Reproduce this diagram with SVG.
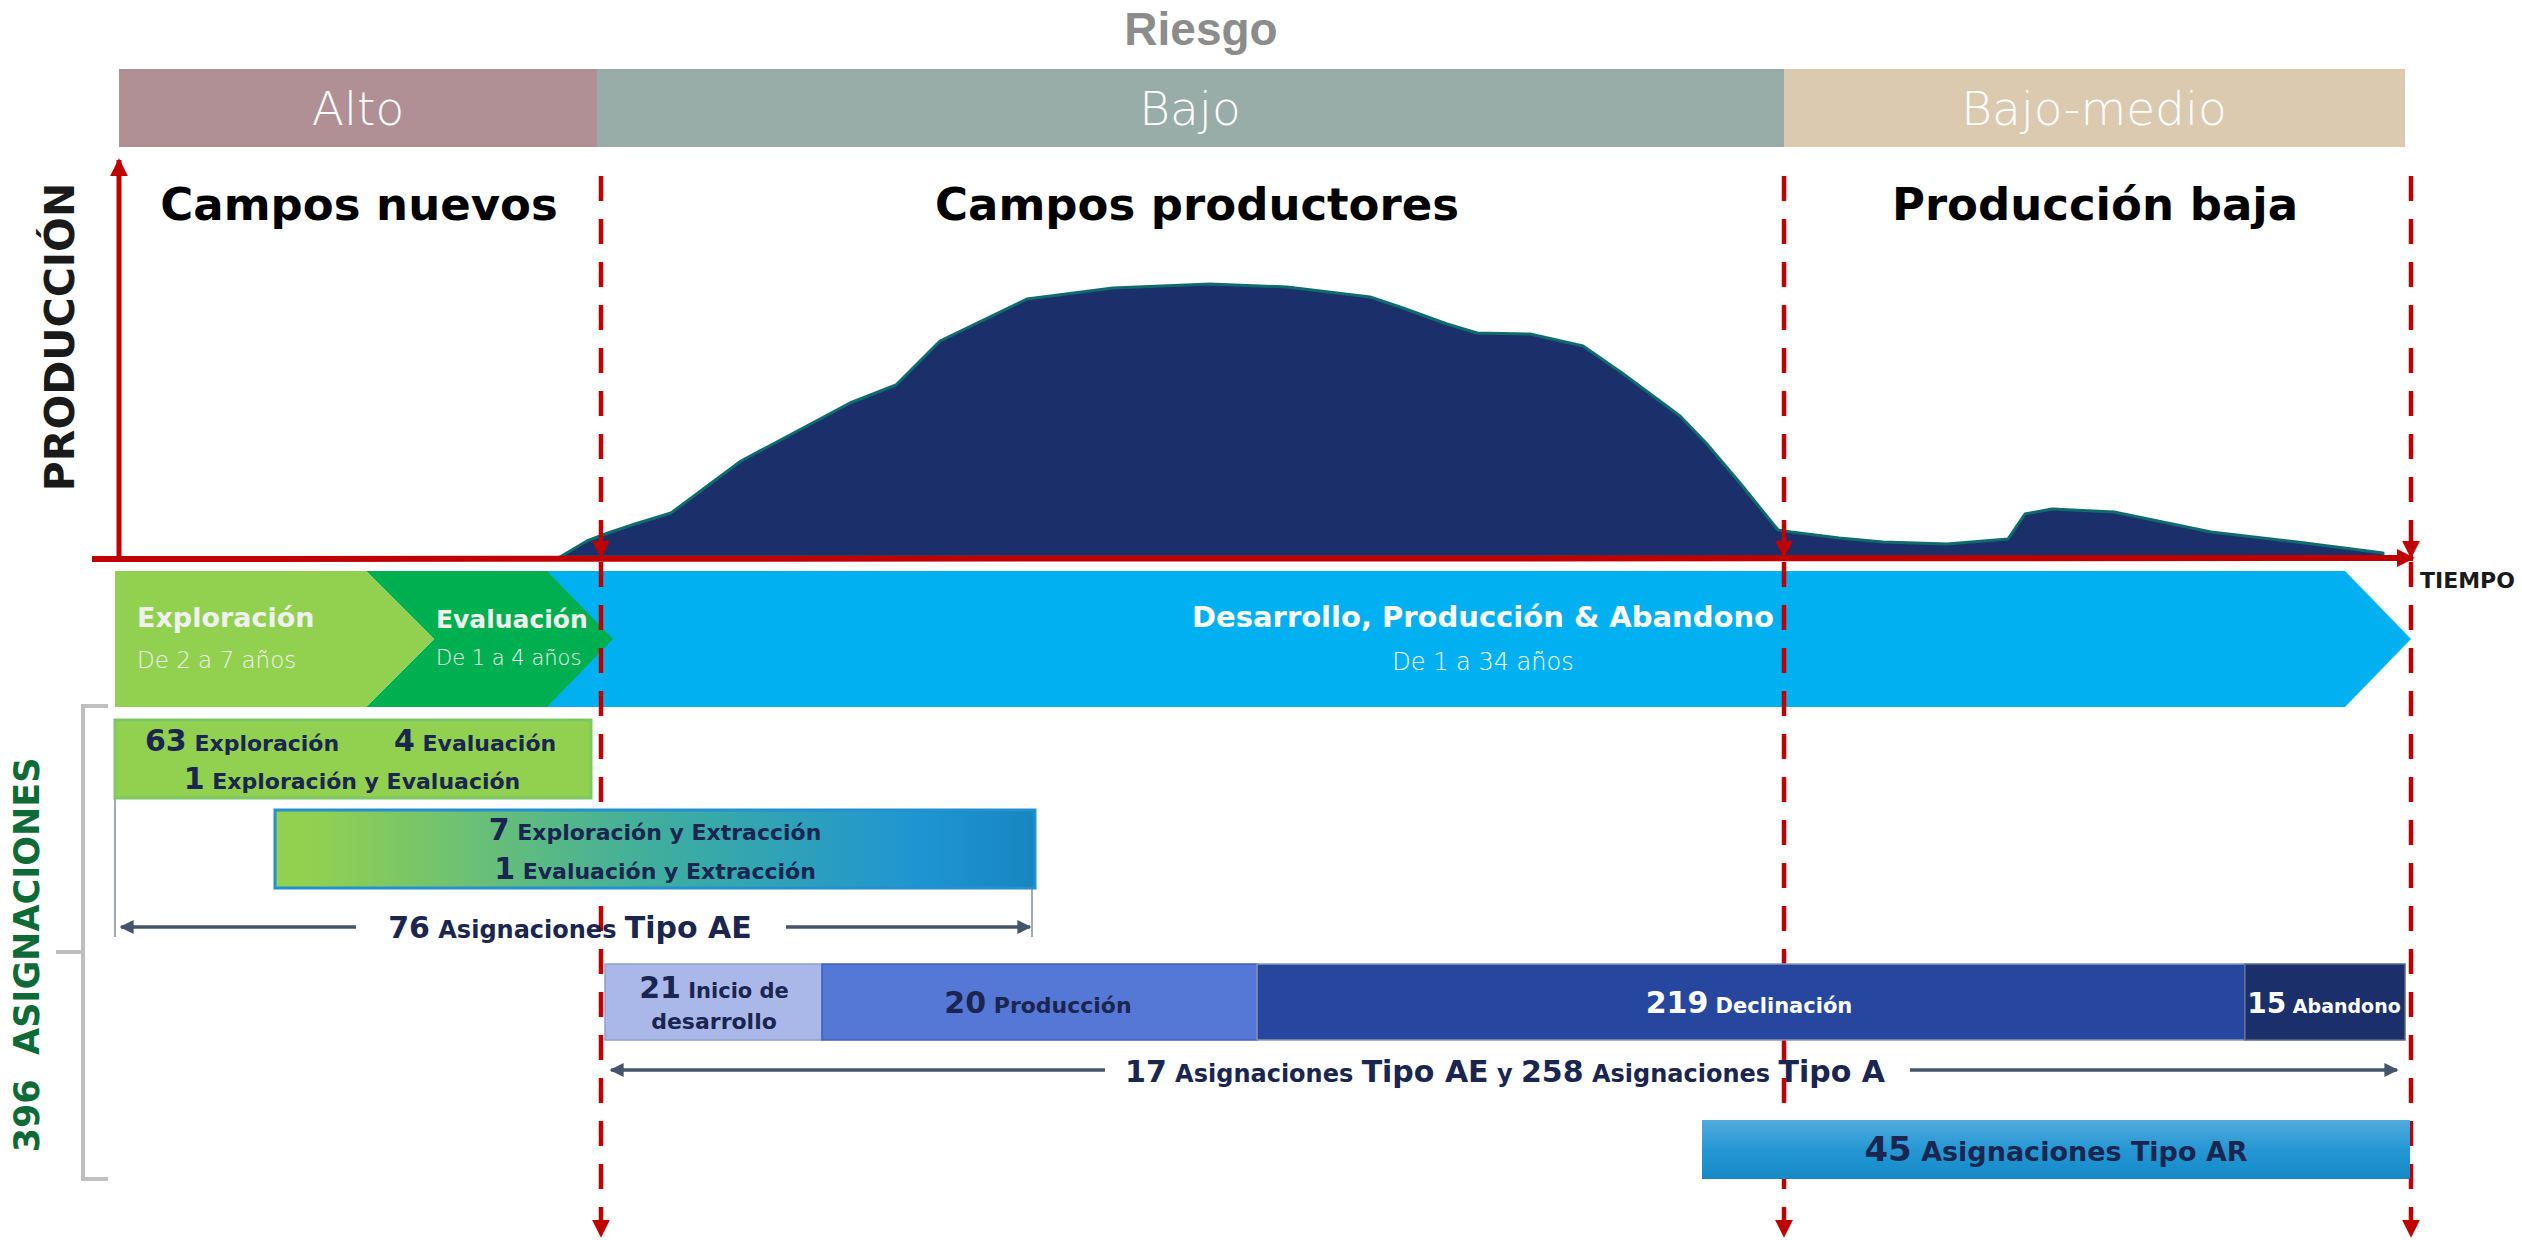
<svg xmlns="http://www.w3.org/2000/svg" width="2522" height="1240" viewBox="0 0 2522 1240">
<style>
text{font-family:"DejaVu Sans","Liberation Sans",Arial,sans-serif}
.b{font-weight:bold}
.navy{fill:#1a2550}
.wh{fill:#ffffff}
.risk{font-family:"DejaVu Sans",sans-serif;font-weight:200;font-size:47px;fill:#ffffff;text-anchor:middle}
.title{font-weight:bold;font-size:45px;fill:#000000;text-anchor:middle}
.dash{stroke:#c00000;stroke-width:4.5;stroke-dasharray:25 18;fill:none}
.dim{stroke:#44546a;stroke-width:3.5;fill:none}
.ext{stroke:#44546a;stroke-width:1;fill:none}
.n{font-size:30px}
.w{font-size:22px}
</style>
<defs>
<marker id="redhead" viewBox="0 0 10 10" refX="9" refY="5" markerWidth="18" markerHeight="18" markerUnits="userSpaceOnUse" orient="auto">
<path d="M0,0 L10,5 L0,10 Z" fill="#c00000"/>
</marker>
<marker id="dimhead" viewBox="0 0 10 10" refX="9" refY="5" markerWidth="14" markerHeight="15" markerUnits="userSpaceOnUse" orient="auto-start-reverse">
<path d="M0,0 L10,5 L0,10 Z" fill="#44546a"/>
</marker>
<linearGradient id="gAE" x1="0" y1="0" x2="1" y2="0">
<stop offset="0" stop-color="#92d050"/>
<stop offset="0.05" stop-color="#92d050"/>
<stop offset="0.5" stop-color="#3fae9e"/>
<stop offset="0.85" stop-color="#1e95d2"/>
<stop offset="1" stop-color="#1786c0"/>
</linearGradient>
<linearGradient id="gAR" x1="0" y1="0" x2="0" y2="1">
<stop offset="0" stop-color="#52aadc"/>
<stop offset="0.5" stop-color="#2598d4"/>
<stop offset="1" stop-color="#1489c6"/>
</linearGradient>
</defs>
<rect width="2522" height="1240" fill="#ffffff"/>

<g id="riesgo">
<text x="1201" y="45" font-family="Liberation Sans, Arial, sans-serif" font-weight="bold" font-size="46" fill="#8c8c8c" text-anchor="middle" style="font-family:'Liberation Sans',Arial,sans-serif">Riesgo</text>
</g>
<g id="risk-alto">
<rect x="119" y="69" width="478" height="78" fill="#b09095"/>
<text class="risk" x="358" y="125">Alto</text>
</g>
<g id="risk-bajo">
<rect x="597" y="69" width="1187" height="78" fill="#98ada8"/>
<text class="risk" x="1190" y="125">Bajo</text>
</g>
<g id="risk-bajomedio">
<rect x="1784" y="69" width="621" height="78" fill="#dbc9b0"/>
<text class="risk" x="2094" y="125">Bajo-medio</text>
</g>

<g id="titles">
<text class="title" x="359" y="220">Campos nuevos</text>
<text class="title" x="1197" y="220">Campos productores</text>
<text class="title" x="2095" y="220">Producción baja</text>
</g>

<g id="produccion-label">
<text transform="translate(74,337) rotate(-90)" font-weight="bold" font-size="41" fill="#1a1a1a" text-anchor="middle">PRODUCCIÓN</text>
</g>

<g id="curve">
<polygon points="560,557 587,541 608,533 635,524 671,513 741,461 850,403 896,385 940,341 1027,299 1113,288 1210,284 1287,287 1370,297 1400,307 1447,324 1477,333 1530,334 1583,346 1622,373 1680,416 1706,443 1740,483 1778,530 1791,532 1839,538 1883,542 1947,544 2008,539 2025,514 2052,509 2114,512 2211,532 2297,542 2383,553 2383,557" fill="#1b2f6b" stroke="#0f6b6e" stroke-width="3" stroke-linejoin="round"/>
</g>

<g id="phases">
<polygon points="547,571 2345,571 2411,639 2345,707 547,707" fill="#00b0f0"/>
<polygon points="366,571 547,571 613,639 547,707 366,707 434,639" fill="#00b050"/>
<polygon points="115,571 366,571 434,639 366,707 115,707" fill="#92d050"/>
<text x="137" y="627" class="b" font-size="27" fill="#f0f0f0">Exploración</text>
<text x="137" y="668" font-weight="200" font-size="23" fill="#f0f0f0">De 2 a 7 años</text>
<text x="436" y="628" class="b" font-size="25" fill="#f0f0f0">Evaluación</text>
<text x="436" y="665" font-weight="200" font-size="21" fill="#f0f0f0">De 1 a 4 años</text>
<text x="1483" y="627" class="b" font-size="29" fill="#ffffff" text-anchor="middle">Desarrollo, Producción &amp; Abandono</text>
<text x="1483" y="670" font-weight="200" font-size="24" fill="#ffffff" text-anchor="middle">De 1 a 34 años</text>
</g>

<g id="connectors">
<line x1="119" y1="560" x2="119" y2="160" stroke="#c00000" stroke-width="5" marker-end="url(#redhead)"/>
<line x1="92" y1="559" x2="2413" y2="558" stroke="#c00000" stroke-width="6" marker-end="url(#redhead)"/>
<line class="dash" x1="601" y1="176" x2="601" y2="557" marker-end="url(#redhead)"/>
<line class="dash" x1="1784" y1="176" x2="1784" y2="557" marker-end="url(#redhead)"/>
<line class="dash" x1="2411" y1="176" x2="2411" y2="557" marker-end="url(#redhead)"/>
<line class="dash" x1="601" y1="562" x2="601" y2="1236" marker-end="url(#redhead)"/>
<line class="dash" x1="1784" y1="562" x2="1784" y2="1236" marker-end="url(#redhead)"/>
<line class="dash" x1="2411" y1="562" x2="2411" y2="1236" marker-end="url(#redhead)"/>
<path d="M108,706 H83 V1179 H108 M56,952 H83" stroke="#bfbfbf" stroke-width="4" fill="none"/>
<line class="ext" x1="115" y1="798" x2="115" y2="937"/>
<line class="ext" x1="1032" y1="888" x2="1032" y2="937"/>
<line class="dim" x1="121" y1="927" x2="356" y2="927" marker-start="url(#dimhead)"/>
<line class="dim" x1="786" y1="927" x2="1030" y2="927" marker-end="url(#dimhead)"/>
<line class="dim" x1="611" y1="1070" x2="1105" y2="1070" marker-start="url(#dimhead)"/>
<line class="dim" x1="1910" y1="1070" x2="2397" y2="1070" marker-end="url(#dimhead)"/>
</g>

<g id="tiempo-label">
<text x="2420" y="588" class="b" font-size="22" fill="#1a1a1a">TIEMPO</text>
</g>

<g id="asignaciones-label">
<text transform="translate(39,955) rotate(-90)" class="b" font-size="35" fill="#0e6b38" text-anchor="middle" xml:space="preserve">396  ASIGNACIONES</text>
</g>

<g id="box-exploracion">
<rect x="115" y="720" width="476" height="78" fill="#92d050" stroke="#7fc766" stroke-width="3"/>
<text x="145" y="751" class="b navy"><tspan class="n">63</tspan><tspan class="w"> Exploración</tspan></text>
<text x="394" y="751" class="b navy"><tspan class="n">4</tspan><tspan class="w"> Evaluación</tspan></text>
<text x="352" y="789" class="b navy" text-anchor="middle"><tspan class="n">1</tspan><tspan class="w"> Exploración y Evaluación</tspan></text>
</g>

<g id="box-extraccion">
<rect x="275" y="810" width="760" height="78" fill="url(#gAE)" stroke="#2490d0" stroke-width="3"/>
<text x="655" y="840" class="b navy" text-anchor="middle"><tspan class="n">7</tspan><tspan class="w"> Exploración y Extracción</tspan></text>
<text x="655" y="879" class="b navy" text-anchor="middle"><tspan class="n">1</tspan><tspan class="w"> Evaluación y Extracción</tspan></text>
</g>

<g id="label-ae">
<text x="570" y="938" class="b navy" text-anchor="middle"><tspan class="n">76</tspan><tspan font-size="24"> Asignaciones </tspan><tspan class="n">Tipo AE</tspan></text>
</g>

<g id="bar-inicio">
<rect x="605" y="964" width="217" height="76" fill="#a9b8e8" stroke="#8f9fcf" stroke-width="1.5"/>
<text x="714" y="998" class="b navy" text-anchor="middle"><tspan class="n">21</tspan><tspan font-size="21"> Inicio de</tspan></text>
<text x="714" y="1029" class="b navy" text-anchor="middle" font-size="22">desarrollo</text>
</g>
<g id="bar-produccion">
<rect x="822" y="964" width="435" height="76" fill="#5578d6" stroke="#3f5fb8" stroke-width="1.5"/>
<text x="1038" y="1013" class="b navy" text-anchor="middle"><tspan class="n">20</tspan><tspan class="w"> Producción</tspan></text>
</g>
<g id="bar-declinacion">
<rect x="1257" y="964" width="988" height="76" fill="#27479e" stroke="#8a96b8" stroke-width="1.5"/>
<text x="1749" y="1013" class="b wh" text-anchor="middle"><tspan class="n">219</tspan><tspan font-size="21"> Declinación</tspan></text>
</g>
<g id="bar-abandono">
<rect x="2245" y="964" width="160" height="76" fill="#1b2f6b" stroke="#5a6a90" stroke-width="1.5"/>
<text x="2324" y="1013" class="b wh" text-anchor="middle"><tspan font-size="28">15</tspan><tspan font-size="19"> Abandono</tspan></text>
</g>

<g id="label-a">
<text x="1505" y="1082" class="b navy" text-anchor="middle"><tspan class="n">17</tspan><tspan font-size="24"> Asignaciones </tspan><tspan class="n">Tipo AE</tspan><tspan font-size="24"> y </tspan><tspan class="n">258</tspan><tspan font-size="24"> Asignaciones </tspan><tspan class="n">Tipo A</tspan></text>
</g>

<g id="box-ar">
<rect x="1702" y="1120" width="708" height="59" fill="url(#gAR)"/>
<text x="2056" y="1161" class="b navy" text-anchor="middle"><tspan font-size="34">45</tspan><tspan font-size="27"> Asignaciones Tipo AR</tspan></text>
</g>
</svg>
